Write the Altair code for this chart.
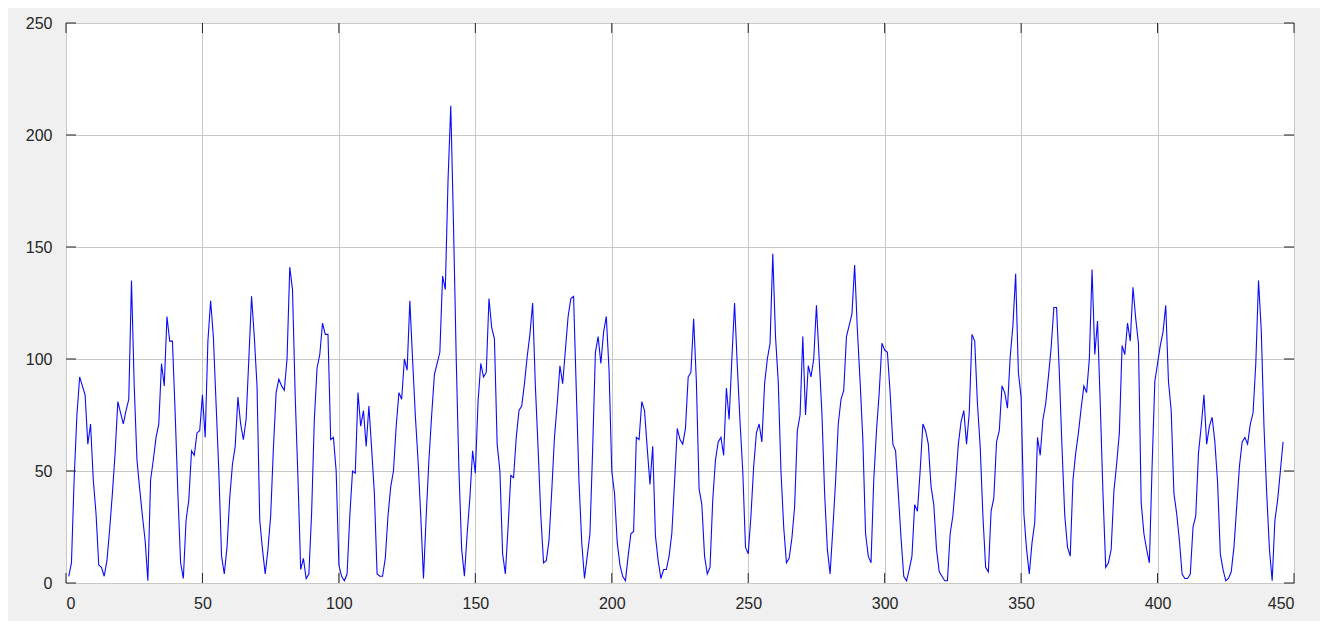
import altair as alt
import pandas as pd

values = [
    3, 9, 47, 75, 92, 88, 84, 62, 71, 46, 31, 8, 7, 3, 10, 24, 40, 58, 81, 76,
    71, 77, 82, 135, 88, 55, 42, 30, 19, 1, 46, 55, 65, 71, 98, 88, 119, 108, 108, 76,
    40, 9, 2, 28, 37, 59, 57, 67, 68, 84, 65, 108, 126, 110, 80, 50, 12, 4, 16, 38,
    53, 61, 83, 71, 64, 73, 100, 128, 110, 88, 28, 15, 4, 15, 30, 60, 85, 91, 88, 86,
    100, 141, 131, 83, 47, 6, 11, 2, 4, 31, 73, 96, 102, 116, 111, 111, 64, 65, 50, 8,
    3, 1, 4, 30, 50, 49, 85, 70, 77, 61, 79, 60, 40, 4, 3, 3, 11, 30, 43, 50,
    70, 85, 82, 100, 95, 126, 100, 75, 55, 30, 2, 30, 55, 75, 93, 98, 103, 137, 131, 180,
    213, 160, 100, 50, 15, 3, 22, 38, 59, 49, 81, 98, 92, 94, 127, 114, 109, 62, 50, 13,
    4, 25, 48, 47, 65, 77, 79, 89, 101, 111, 125, 88, 60, 30, 9, 10, 19, 41, 65, 80,
    97, 89, 104, 119, 127, 128, 86, 45, 18, 2, 12, 22, 60, 103, 110, 98, 112, 119, 95, 50,
    40, 18, 8, 3, 1, 12, 22, 23, 65, 64, 81, 77, 60, 44, 61, 21, 10, 2, 6, 6,
    12, 22, 45, 69, 64, 62, 69, 92, 94, 118, 90, 42, 35, 12, 4, 7, 37, 55, 63, 65,
    57, 87, 73, 100, 125, 97, 72, 50, 16, 13, 30, 52, 67, 71, 63, 89, 100, 107, 147, 110,
    90, 50, 25, 9, 11, 20, 34, 68, 75, 110, 75, 97, 92, 100, 124, 100, 76, 40, 15, 4,
    24, 45, 71, 82, 86, 110, 115, 120, 142, 113, 90, 64, 22, 12, 9, 46, 68, 85, 107, 104,
    103, 85, 62, 59, 40, 20, 3, 1, 6, 12, 35, 32, 50, 71, 68, 62, 43, 35, 15, 5,
    3, 1, 1, 22, 30, 45, 62, 72, 77, 62, 76, 111, 108, 80, 61, 30, 7, 5, 32, 38,
    63, 68, 88, 85, 78, 101, 115, 138, 94, 83, 31, 15, 4, 18, 27, 65, 57, 73, 80, 92,
    105, 123, 123, 94, 60, 30, 16, 12, 46, 58, 67, 78, 88, 85, 100, 140, 102, 117, 80, 40,
    7, 9, 15, 41, 53, 67, 106, 102, 116, 108, 132, 118, 107, 36, 22, 15, 9, 52, 90, 98,
    106, 112, 124, 90, 77, 40, 31, 19, 4, 2, 2, 4, 25, 30, 58, 70, 84, 62, 70, 74,
    63, 45, 13, 6, 1, 2, 5, 16, 34, 52, 63, 65, 62, 71, 76, 98, 135, 113, 70, 40,
    15, 1, 28, 37, 50, 63,
]
x_ticks = [0, 50, 100, 150, 200, 250, 300, 350, 400, 450]
y_ticks = [0, 50, 100, 150, 200, 250]

df = pd.DataFrame({"x": list(range(1, len(values) + 1)), "y": values})
xt = pd.DataFrame({"t": x_ticks})
yt = pd.DataFrame({"t": y_ticks})

W, H = 1228, 560
xs = alt.Scale(domain=[0, 450], nice=False, zero=False)
ys = alt.Scale(domain=[0, 250], nice=False, zero=False)

common = dict(title=None, grid=True, labelFontSize=16, ticks=False, domain=False,
              labelColor="#262626", labelFont="Liberation Sans", gridColor="#c8c8c8")

line = alt.Chart(df).mark_line(color="#0a0aff", strokeWidth=1.1, clip=True).encode(
    x=alt.X("x:Q", scale=xs, axis=alt.Axis(values=x_ticks, labelPadding=12, **common)),
    y=alt.Y("y:Q", scale=ys, axis=alt.Axis(values=y_ticks, labelPadding=14, **common)),
)

xtick_b = alt.Chart(xt).mark_rule(color="#262626", strokeWidth=1).encode(
    x=alt.X("t:Q", scale=xs), y=alt.value(H), y2=alt.value(H - 10))
xtick_t = alt.Chart(xt).mark_rule(color="#262626", strokeWidth=1).encode(
    x=alt.X("t:Q", scale=xs), y=alt.value(0), y2=alt.value(10))
ytick_l = alt.Chart(yt).mark_rule(color="#262626", strokeWidth=1).encode(
    y=alt.Y("t:Q", scale=ys), x=alt.value(0), x2=alt.value(10))
ytick_r = alt.Chart(yt).mark_rule(color="#262626", strokeWidth=1).encode(
    y=alt.Y("t:Q", scale=ys), x=alt.value(W), x2=alt.value(W - 10))

chart = alt.layer(line, xtick_b, xtick_t, ytick_l, ytick_r).properties(
    width=W, height=H,
    background="#f0f0f0",
    padding={"left": 58, "top": 15, "right": 26, "bottom": 38},
    autosize=alt.AutoSizeParams(type="none"),
).configure_view(fill="white", stroke="#262626", strokeWidth=1)

chart.save("out.html", embed_options={"renderer": "svg", "actions": False})
